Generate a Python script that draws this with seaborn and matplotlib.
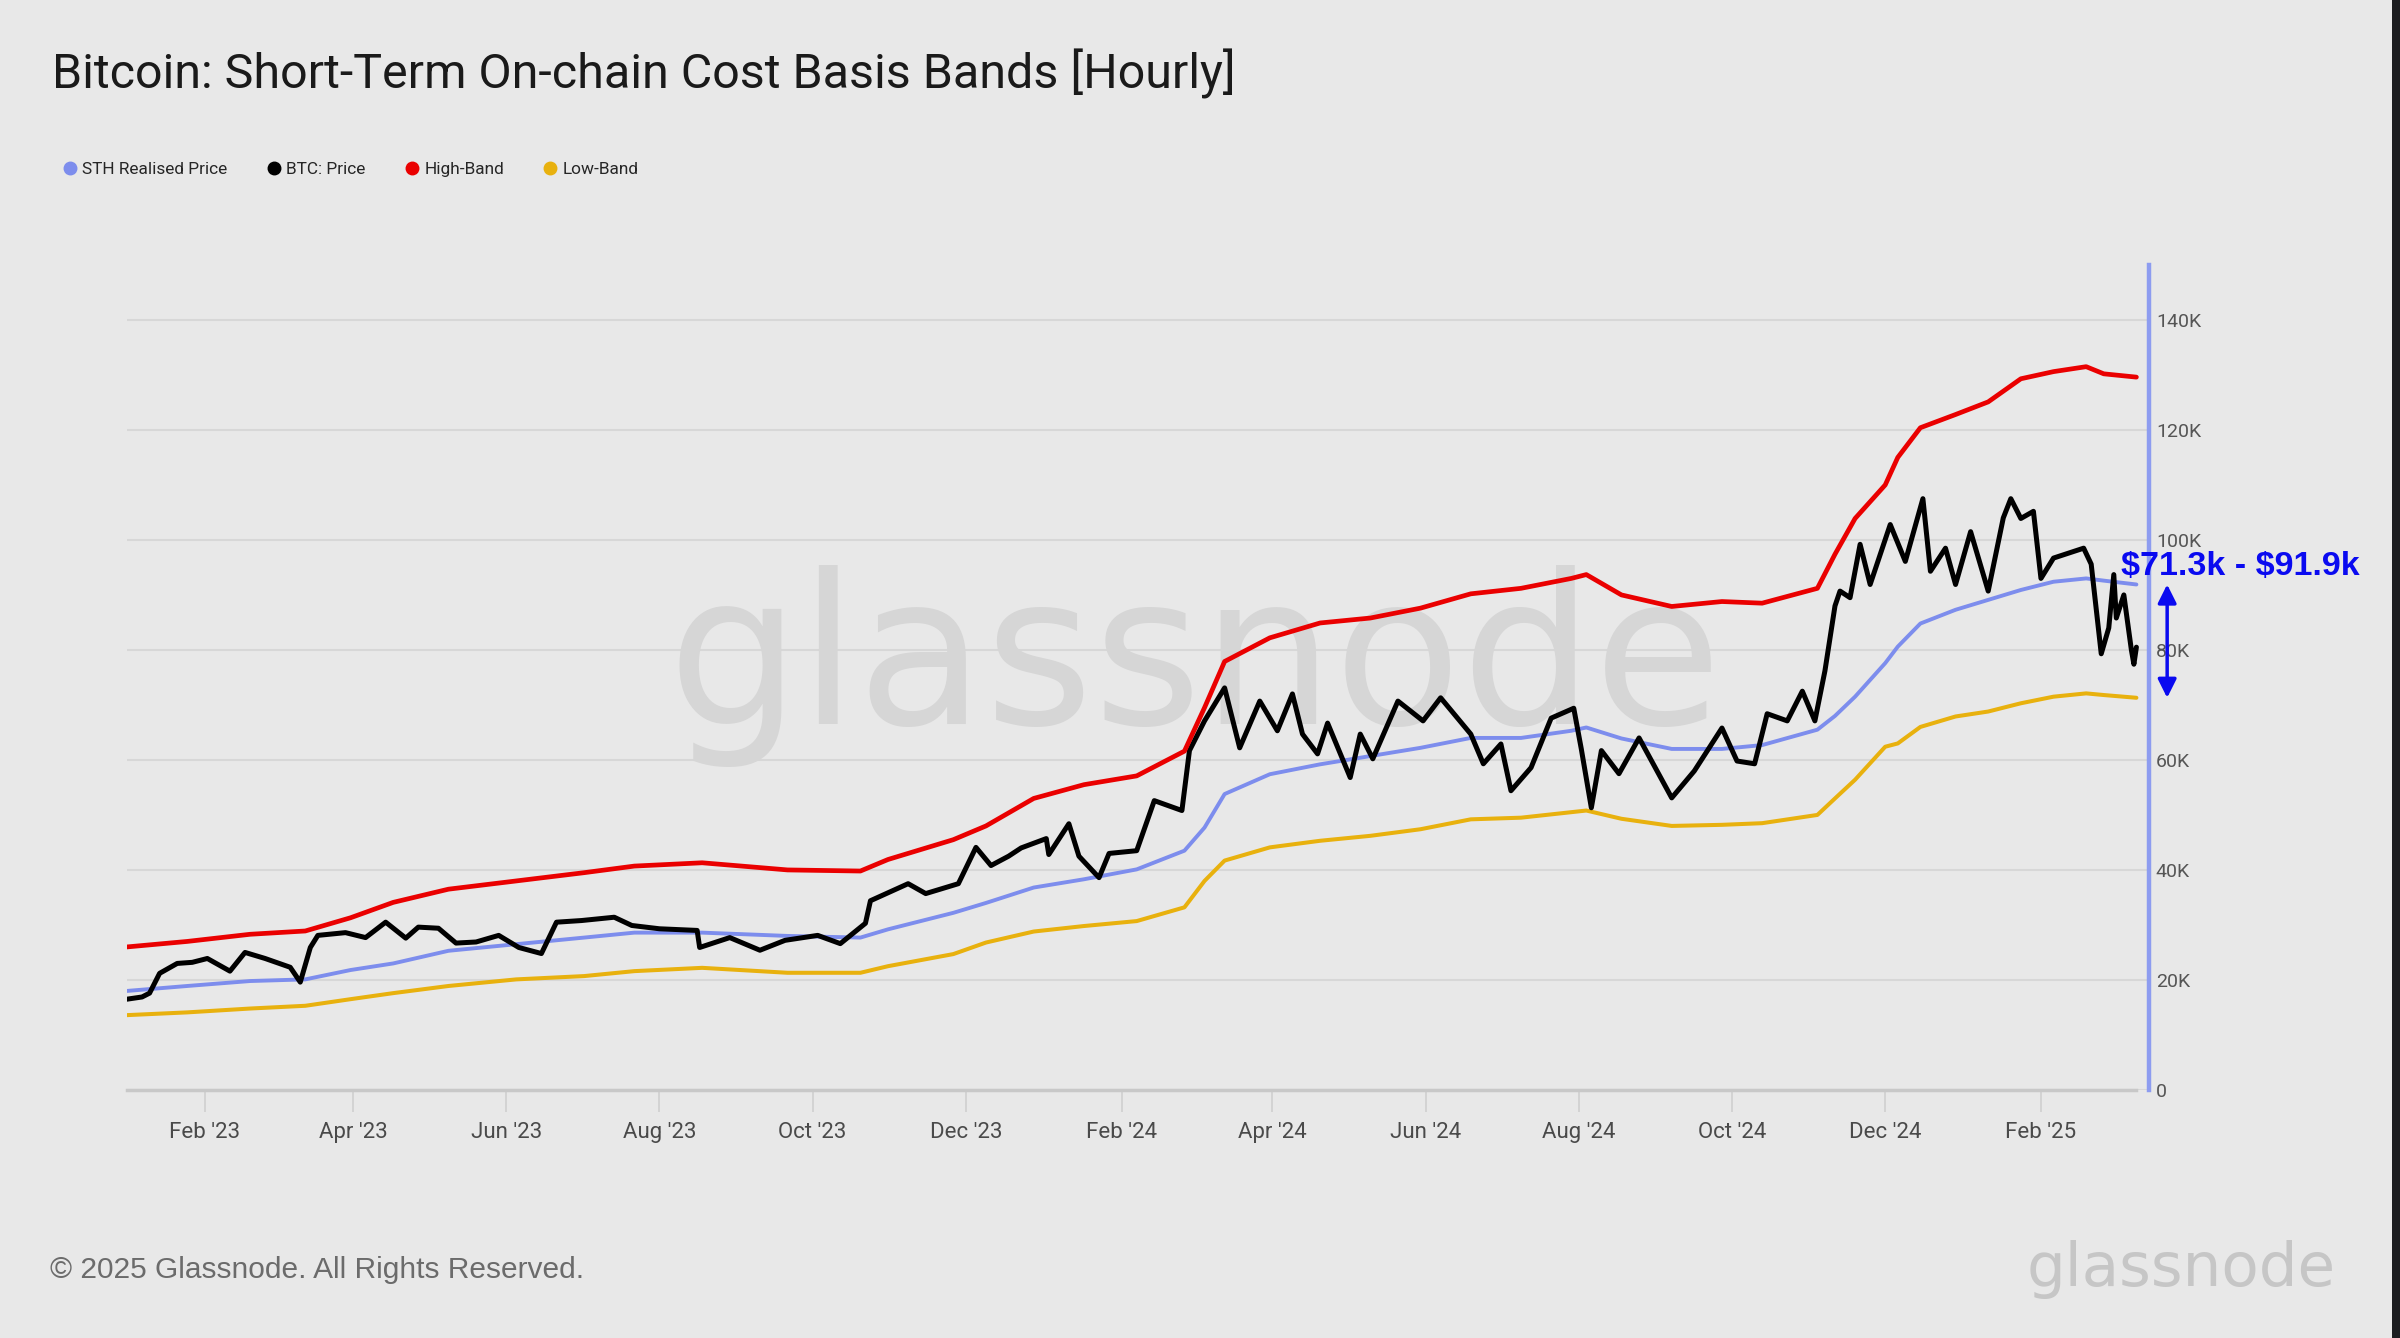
import pandas as pd
import numpy as np
import seaborn as sns
import matplotlib
matplotlib.use("Agg")
from matplotlib import pyplot as plt
import matplotlib.dates as mdates
from matplotlib.lines import Line2D
from matplotlib.patches import Rectangle

# ---- data (values in $K) ----
price_dates = [
    "2023-01-01", "2023-01-07", "2023-01-10", "2023-01-14", "2023-01-21", "2023-01-27",
    "2023-02-02", "2023-02-11", "2023-02-17", "2023-02-25", "2023-03-07", "2023-03-11",
    "2023-03-15", "2023-03-18", "2023-03-29", "2023-04-06", "2023-04-14", "2023-04-22",
    "2023-04-27", "2023-05-05", "2023-05-12", "2023-05-20", "2023-05-29", "2023-06-06",
    "2023-06-15", "2023-06-21", "2023-07-01", "2023-07-14", "2023-07-21", "2023-08-01",
    "2023-08-16", "2023-08-17", "2023-08-29", "2023-09-10", "2023-09-20", "2023-10-03",
    "2023-10-12", "2023-10-22", "2023-10-24", "2023-11-08", "2023-11-15", "2023-11-28",
    "2023-12-05", "2023-12-11", "2023-12-18", "2023-12-23", "2024-01-02", "2024-01-03",
    "2024-01-11", "2024-01-15", "2024-01-23", "2024-01-27", "2024-02-07", "2024-02-14",
    "2024-02-25", "2024-02-28", "2024-03-05", "2024-03-13", "2024-03-19", "2024-03-27",
    "2024-04-03", "2024-04-09", "2024-04-13", "2024-04-19", "2024-04-23", "2024-05-02",
    "2024-05-06", "2024-05-11", "2024-05-21", "2024-05-31", "2024-06-07", "2024-06-19",
    "2024-06-24", "2024-07-01", "2024-07-05", "2024-07-13", "2024-07-21", "2024-07-30",
    "2024-08-02", "2024-08-06", "2024-08-10", "2024-08-17", "2024-08-25", "2024-09-07",
    "2024-09-16", "2024-09-27", "2024-10-03", "2024-10-10", "2024-10-15", "2024-10-23",
    "2024-10-29", "2024-11-03", "2024-11-07", "2024-11-11", "2024-11-13", "2024-11-17",
    "2024-11-21", "2024-11-25", "2024-12-03", "2024-12-09", "2024-12-16", "2024-12-19",
    "2024-12-25", "2024-12-29", "2025-01-04", "2025-01-11", "2025-01-17", "2025-01-20",
    "2025-01-24", "2025-01-29", "2025-02-01", "2025-02-06", "2025-02-18", "2025-02-21",
    "2025-02-25", "2025-02-28", "2025-03-02", "2025-03-03", "2025-03-06", "2025-03-09",
    "2025-03-10", "2025-03-11",
]
btc_price = [
    16.5, 16.9, 17.6, 21.2, 23.0, 23.2,
    23.9, 21.6, 25.0, 23.9, 22.3, 19.6,
    25.9, 28.1, 28.6, 27.7, 30.5, 27.6,
    29.6, 29.4, 26.7, 26.9, 28.1, 25.9,
    24.8, 30.5, 30.8, 31.4, 29.9, 29.3,
    29.0, 25.9, 27.7, 25.4, 27.2, 28.1,
    26.6, 30.3, 34.4, 37.5, 35.7, 37.5,
    44.1, 40.8, 42.5, 44.0, 45.7, 42.8,
    48.4, 42.5, 38.6, 43.0, 43.5, 52.6,
    50.8, 61.7, 67.1, 73.1, 62.2, 70.7,
    65.3, 72.0, 64.7, 61.1, 66.7, 56.8,
    64.7, 60.2, 70.7, 67.1, 71.3, 64.7,
    59.3, 62.9, 54.4, 58.6, 67.6, 69.4,
    62.0, 51.3, 61.7, 57.5, 64.0, 53.1,
    58.0, 65.8, 59.8, 59.3, 68.4, 67.1,
    72.5, 67.1, 76.2, 88.0, 90.7, 89.5,
    99.2, 91.9, 102.8, 96.1, 107.5, 94.3,
    98.5, 91.9, 101.5, 90.7, 104.0, 107.5,
    103.9, 105.2, 93.0, 96.7, 98.5, 95.6,
    79.3, 84.0, 93.7, 85.8, 90.0, 80.0,
    77.4, 80.5,
]

band_dates = [
    "2023-01-01", "2023-01-25", "2023-02-19", "2023-03-13", "2023-03-31", "2023-04-17",
    "2023-05-09", "2023-06-05", "2023-07-02", "2023-07-22", "2023-08-18", "2023-09-21",
    "2023-10-20", "2023-10-31", "2023-11-26", "2023-12-09", "2023-12-28", "2024-01-17",
    "2024-02-07", "2024-02-26", "2024-03-05", "2024-03-13", "2024-03-31", "2024-04-20",
    "2024-05-10", "2024-05-30", "2024-06-19", "2024-07-09", "2024-07-29", "2024-08-04",
    "2024-08-18", "2024-09-07", "2024-09-27", "2024-10-13", "2024-11-04", "2024-11-11",
    "2024-11-19", "2024-12-01", "2024-12-06", "2024-12-15", "2024-12-29", "2025-01-11",
    "2025-01-24", "2025-02-06", "2025-02-19", "2025-02-26", "2025-03-11",
]
sth_price = [
    18.0, 18.9, 19.8, 20.1, 21.8, 23.0,
    25.3, 26.5, 27.7, 28.6, 28.6, 28.0,
    27.7, 29.2, 32.2, 34.0, 36.8, 38.3,
    40.1, 43.5, 47.7, 53.8, 57.4, 59.2,
    60.7, 62.2, 64.0, 64.0, 65.3, 65.9,
    63.9, 62.0, 62.0, 62.7, 65.5, 68.0,
    71.5, 77.6, 80.6, 84.8, 87.3, 89.1,
    90.9, 92.4, 93.0, 92.6, 91.9,
]
high_band = [
    26.0, 27.0, 28.3, 28.9, 31.3, 34.1,
    36.5, 38.0, 39.5, 40.7, 41.3, 40.0,
    39.8, 41.9, 45.5, 48.0, 53.0, 55.5,
    57.1, 61.6, 69.5, 77.9, 82.2, 84.9,
    85.8, 87.6, 90.2, 91.2, 93.0, 93.7,
    90.0, 87.9, 88.8, 88.5, 91.2, 97.4,
    103.9, 110.0, 115.0, 120.4, 122.8, 125.1,
    129.3, 130.6, 131.5, 130.2, 129.6,
]
low_band = [
    13.6, 14.1, 14.8, 15.3, 16.5, 17.6,
    18.9, 20.1, 20.7, 21.6, 22.2, 21.3,
    21.3, 22.5, 24.7, 26.8, 28.8, 29.8,
    30.7, 33.2, 38.0, 41.7, 44.1, 45.3,
    46.2, 47.4, 49.2, 49.5, 50.5, 50.8,
    49.3, 48.0, 48.2, 48.5, 50.0, 53.0,
    56.4, 62.4, 63.0, 66.0, 67.9, 68.8,
    70.3, 71.5, 72.1, 71.8, 71.3,
]

y_ticks = [0, 20, 40, 60, 80, 100, 120, 140]

price_df = pd.DataFrame({"date": pd.to_datetime(price_dates), "value": np.array(btc_price) * 1000})
band_df = pd.DataFrame({
    "date": pd.to_datetime(band_dates),
    "sth": np.array(sth_price) * 1000,
    "high": np.array(high_band) * 1000,
    "low": np.array(low_band) * 1000,
})

BG = "#e8e8e8"
C_STH = "#7d8ded"
C_BTC = "#000000"
C_HIGH = "#ea0000"
C_LOW = "#e8b10e"

sns.set_theme(style="white")
plt.rcParams["font.family"] = ["Roboto", "DejaVu Sans"]

fig = plt.figure(figsize=(24, 13.38), dpi=100, facecolor=BG)
ax = fig.add_axes([0.0529, 0.1854, 0.8425, 0.6166])
ax.set_facecolor(BG)

# watermark
ax.text(0.528, 0.514, "glassnode", transform=ax.transAxes, ha="center", va="center",
        fontsize=150, color="#d6d6d6", family="DejaVu Sans", zorder=0.6)

sns.lineplot(data=band_df, x="date", y="sth", color=C_STH, lw=2.8, ax=ax, zorder=3)
sns.lineplot(data=price_df, x="date", y="value", color=C_BTC, lw=3.6, ax=ax, zorder=4)
sns.lineplot(data=band_df, x="date", y="high", color=C_HIGH, lw=3.4, ax=ax, zorder=5)
sns.lineplot(data=band_df, x="date", y="low", color=C_LOW, lw=2.9, ax=ax, zorder=3)

ax.set_xlim(pd.Timestamp("2023-01-01"), pd.Timestamp("2025-03-16"))
ax.set_ylim(0, 150000)
ax.set_xlabel("")
ax.set_ylabel("")

ax.yaxis.tick_right()
ax.set_yticks([v * 1000 for v in y_ticks])
ax.set_yticklabels([f"{v}K" if v else "0" for v in y_ticks])
ax.tick_params(axis="y", length=0, pad=5, labelsize=14, labelcolor="#555555")
ax.grid(axis="y", color="#d7d7d7", lw=1.5)
ax.set_axisbelow(True)

ax.xaxis.set_major_locator(mdates.MonthLocator(bymonth=[2, 4, 6, 8, 10, 12]))
ax.xaxis.set_major_formatter(mdates.DateFormatter("%b '%y"))
ax.tick_params(axis="x", length=16, width=1.2, color="#cfcfcf", pad=7,
               labelsize=16, labelcolor="#4a4a4a", bottom=True)

for s in ["top", "left"]:
    ax.spines[s].set_visible(False)
ax.spines["right"].set_color("#8d9cf0")
ax.spines["right"].set_linewidth(3.2)
ax.spines["bottom"].set_color("#c8c8c8")
ax.spines["bottom"].set_linewidth(2.5)
ax.spines["bottom"].set_bounds(mdates.date2num(band_df["date"].iloc[0]),
                               mdates.date2num(band_df["date"].iloc[-1]))

# range annotation
lo, hi = low_band[-1], sth_price[-1]
ax.annotate("", xy=(1.009, lo * 1000), xytext=(1.009, hi * 1000),
            xycoords=("axes fraction", "data"), textcoords=("axes fraction", "data"),
            arrowprops=dict(arrowstyle="<|-|>", color="#0a0af0", lw=2.5, mutation_scale=28,
                            shrinkA=0, shrinkB=0),
            annotation_clip=False)
ax.annotate(f"\\${lo:.1f}k - \\${hi:.1f}k", xy=(0.986, 95200),
            xycoords=("axes fraction", "data"), ha="left", va="center",
            fontsize=24.5, fontweight="bold", color="#0a0af0",
            family="Liberation Sans", annotation_clip=False, zorder=10)

# title / legend / footer
fig.text(0.0215, 0.945, "Bitcoin: Short-Term On-chain Cost Basis Bands [Hourly]",
         fontsize=34.8, color="#1a1a1a", ha="left", va="center")

handles = [Line2D([], [], marker="o", ls="", color=c, markersize=9)
           for c in [C_STH, C_BTC, C_HIGH, C_LOW]]
labels = ["STH Realised Price", "BTC: Price", "High-Band", "Low-Band"]
fig.legend(handles, labels, loc="center left", bbox_to_anchor=(0.02, 0.873), ncol=4,
           frameon=False, fontsize=12.4, handletextpad=0.3, columnspacing=2.3,
           handlelength=0.8)

fig.text(0.0208, 0.051, "\u00a9 2025 Glassnode. All Rights Reserved.", fontsize=21.5,
         color="#6b6b6b", ha="left", va="center", family="Liberation Sans")
fig.text(0.909, 0.051, "glassnode", fontsize=44, color="#c6c6c6", ha="center", va="center",
         family="DejaVu Sans")

# dark strip on right edge
fig.patches.append(Rectangle((0.9967, 0), 0.0033, 1, transform=fig.transFigure,
                             facecolor="#1c1d20", edgecolor="none"))

fig.savefig("out.png", dpi=100, facecolor=BG)
